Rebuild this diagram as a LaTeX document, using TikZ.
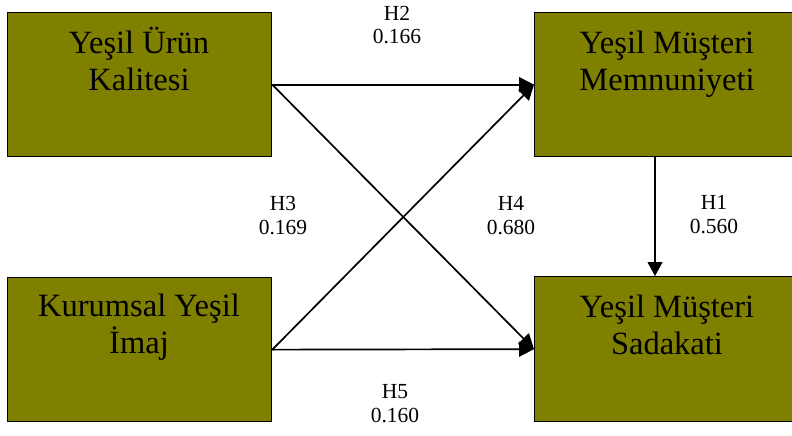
\documentclass[tikz,border=0pt]{standalone}
\usepackage{fontspec}
\setmainfont{Liberation Serif}
\usetikzlibrary{arrows.meta}
\begin{document}
\begin{tikzpicture}[x=1pt,y=-1pt,
  construct/.style={draw=black, line width=1.3pt, fill=olive, anchor=north west, inner sep=0pt},
  boxtext/.style={anchor=base, align=center, inner sep=0pt, font=\fontsize{32.5}{37}\selectfont},
  coef/.style={anchor=base, align=center, inner sep=0pt, font=\fontsize{21.5}{23.5}\selectfont},
  path/.style={draw=black, line width=1.7pt, -{Triangle[length=15pt, width=15pt]}},
  thinpath/.style={draw=black, line width=1.1pt, -{Triangle[length=14pt, width=15pt]}}]
\definecolor{olive}{RGB}{128,128,0}
\useasboundingbox (0,0) rectangle (792,436);

% constructs
\node[construct, minimum width=264pt, minimum height=144pt] (quality) at (7,12) {};
\node[construct, minimum width=266pt, minimum height=144pt] (satisf) at (534,12) {};
\node[construct, minimum width=264pt, minimum height=144pt] (image) at (7,277) {};
\node[construct, minimum width=266pt, minimum height=145pt] (loyal) at (534,276) {};

% construct names (anchored at the baseline of the second line)
\node[boxtext] (qualityT) at (139,90) {Yeşil Ürün\\Kalitesi};
\node[boxtext] (satisfT) at (667,90) {Yeşil Müşteri\\Memnuniyeti};
\node[boxtext] (imageT) at (139,353) {Kurumsal Yeşil\\İmaj};
\node[boxtext] (loyalT) at (667,354) {Yeşil Müşteri\\Sadakati};

% structural paths
\draw[path] (quality.east) -- (satisf.west);
\draw[path] (quality.east) -- (loyal.west);
\draw[path] (image.east) -- (satisf.west);
\draw[path] (image.east) -- (loyal.west);
\coordinate (h1x) at (655,0);
\draw[thinpath] (satisf.south -| h1x) -- (loyal.north -| h1x);

% path coefficients
\node[coef] (h2) at (397,44) {H2\\0.166};
\node[coef] (h3) at (283,234) {H3\\0.169};
\node[coef] (h4) at (511,234) {H4\\0.680};
\node[coef] (h1) at (714,233) {H1\\0.560};
\node[coef] (h5) at (395,422) {H5\\0.160};
\end{tikzpicture}
\end{document}
